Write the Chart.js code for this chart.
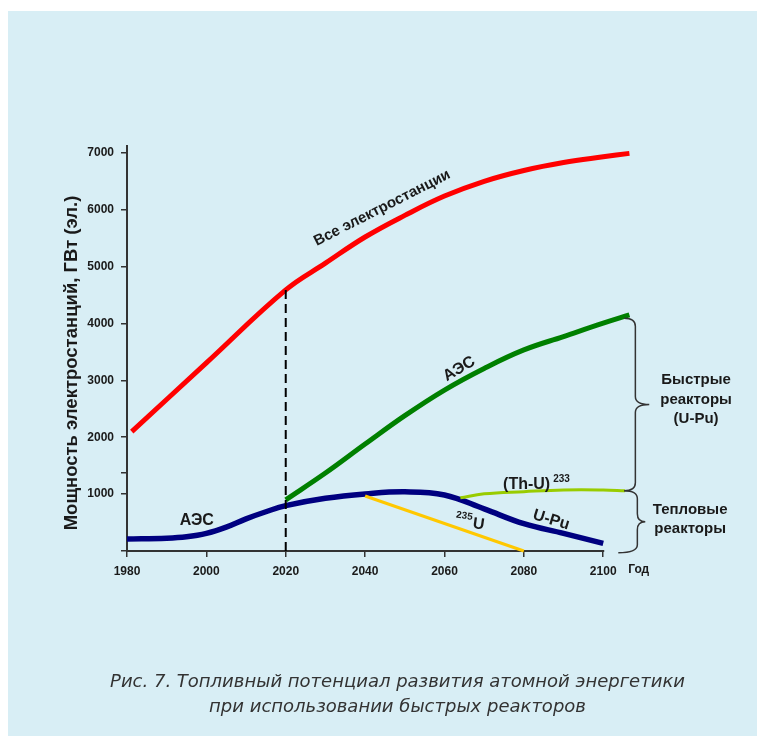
<!DOCTYPE html>
<html><head><meta charset="utf-8">
<script src="https://cdn.jsdelivr.net/npm/chart.js@4/dist/chart.umd.min.js"></script>
<style>
html,body{margin:0;padding:0;background:#fff;width:757px;height:736px;overflow:hidden;}
#panel{position:absolute;left:8px;top:11px;right:0;bottom:0;background:#d8eef5;}
#c{position:absolute;left:0;top:0;}
#cap{position:absolute;left:0;width:795px;top:668px;text-align:center;font-family:"DejaVu Sans";font-style:italic;font-weight:200;font-size:18px;line-height:25px;color:#333;}
</style></head><body>
<div id="panel"></div>
<canvas id="c" width="757" height="736"></canvas>
<div id="cap">Рис. 7. Топливный потенциал развития атомной энергетики<br>при использовании быстрых реакторов</div>
<script>
// ---- data ----
const xTicks = [1980, 2000, 2020, 2040, 2060, 2080, 2100];
const yTicks = [0, 1000, 1370, 2000, 3000, 4000, 5000, 6000, 7000];
const yTickLabels = ['', '1000', '', '2000', '3000', '4000', '5000', '6000', '7000'];

const allYears  = [1981.2, 2000, 2020, 2030, 2040, 2050, 2060, 2070, 2080, 2090, 2100, 2106.6];
const allPower  = [2100, 3307, 4590, 5060, 5520, 5900, 6240, 6500, 6690, 6830, 6930, 6990];

const fastYears = [2020, 2030, 2040, 2050, 2060, 2070, 2080, 2090, 2100, 2106.6];
const fastPower = [900, 1370, 1880, 2380, 2830, 3210, 3535, 3770, 4005, 4150];

const npsYears  = [1980, 1990, 1995, 2000, 2005, 2010, 2015, 2020, 2030, 2040, 2050, 2060, 2070, 2080, 2090, 2100];
const npsPower  = [210, 225, 250, 310, 420, 565, 690, 797, 926, 1002, 1040, 985, 740, 480, 310, 135];

const u235Years = [2040, 2080];
const u235Power = [967, 0];

const thuYears  = [2064, 2070, 2080, 2090, 2100, 2105.5];
const thuPower  = [935, 1005, 1043, 1073, 1073, 1060];

const cutYears  = [2020, 2020];
const cutPower  = [0, 4590];

const pts = (xs, ys) => xs.map((v, i) => ({x: v, y: ys[i]}));

const FONT = '"Liberation Sans", Arial, sans-serif';

const annot = {
  id: 'annot',
  beforeDatasetsDraw(chart) {
    const {ctx, scales: {x, y}} = chart;
    ctx.save();
    ctx.strokeStyle = '#333';
    ctx.lineWidth = 2;
    ctx.beginPath();
    ctx.moveTo(x.left, y.bottom);
    ctx.lineTo(x.getPixelForValue(xTicks[xTicks.length - 1]) + 1, y.bottom);
    ctx.stroke();
    ctx.restore();
  },
  afterDatasetsDraw(chart) {
    const {ctx, scales: {x, y}} = chart;
    const X = v => x.getPixelForValue(v), Y = v => y.getPixelForValue(v);
    ctx.save();
    ctx.fillStyle = '#1a1a1a';
    ctx.textAlign = 'center';
    ctx.textBaseline = 'middle';
    const txt = (s, xv, yv, rot, size, align) => {
      ctx.save();
      ctx.translate(X(xv), Y(yv));
      ctx.rotate(rot * Math.PI / 180);
      ctx.font = 'bold ' + size + 'px ' + FONT;
      ctx.textAlign = align || 'center';
      ctx.fillText(s, 0, 0);
      ctx.restore();
    };
    txt('Все электростанции', 2044.3, 6030, -27, 15);
    txt('АЭС', 2063.7, 3200, -31, 16);
    txt('АЭС', 1997.6, 527, 0, 16);
    txt('(Th-U)', 2080.7, 1160, 0, 16);
    txt('233', 2089.5, 1266, 0, 10);
    txt('235', 2065.0, 615, 8, 10);
    txt('U', 2068.6, 466, 8, 16);
    txt('U-Pu', 2086.9, 545, 17, 16);
    txt('Быстрые', 2123.4, 3006, 0, 15);
    txt('реакторы', 2123.4, 2655, 0, 15);
    txt('(U-Pu)', 2123.4, 2321, 0, 15);
    txt('Тепловые', 2121.9, 721, 0, 15);
    txt('реакторы', 2121.9, 381, 0, 15);
    // x-axis unit
    ctx.font = 'bold 12px ' + FONT;
    ctx.textAlign = 'left';
    ctx.fillText('Год', X(2106.3), y.bottom + 19);
    // y-axis title
    ctx.save();
    ctx.translate(72, 363);
    ctx.rotate(-Math.PI / 2);
    ctx.font = 'bold 18.5px ' + FONT;
    ctx.textAlign = 'center';
    ctx.fillText('Мощность электростанций, ГВт (эл.)', 0, 0);
    ctx.restore();
    // braces
    ctx.strokeStyle = '#333';
    ctx.lineWidth = 1.5;
    const brace = (xv, top, bot, tipXv, leftTop, leftBot) => {
      const x0 = X(xv), y0 = Y(top), y1 = Y(bot), xt = X(tipXv), ym = (y0 + y1) / 2, r = 8;
      ctx.beginPath();
      ctx.moveTo(X(leftTop), y0);
      ctx.quadraticCurveTo(x0, y0, x0, y0 + r);
      ctx.lineTo(x0, ym - r);
      ctx.quadraticCurveTo(x0, ym, xt, ym);
      ctx.quadraticCurveTo(x0, ym, x0, ym + r);
      ctx.lineTo(x0, y1 - r);
      ctx.quadraticCurveTo(x0, y1, X(leftBot), y1);
      ctx.stroke();
    };
    brace(2108.1, 4093, 1060, 2111.6, 2105.3, 2105.3);
    brace(2108.6, 1060, -30, 2110.6, 2105.3, 2103.8);
    ctx.restore();
  }
};

const line = (data, color, w, extra) => Object.assign({
  data, borderColor: color, borderWidth: w, pointRadius: 0, fill: false,
  tension: 0.4, clip: false
}, extra || {});

new Chart(document.getElementById('c'), {
  type: 'line',
  data: {
    datasets: [
      line(pts(cutYears, cutPower), '#000', 2, {borderDash: [9, 5], tension: 0}),
      line(pts(allYears, allPower), '#ff0000', 5),
      line(pts(fastYears, fastPower), '#008000', 5),
      line(pts(u235Years, u235Power), '#ffc800', 3, {tension: 0}),
      line(pts(thuYears, thuPower), '#99cc00', 3),
      line(pts(npsYears, npsPower), '#000080', 5.5)
    ]
  },
  options: {
    responsive: false,
    devicePixelRatio: 1,
    animation: false,
    events: [],
    layout: {padding: {left: 0, right: 126, top: 146, bottom: 155}},
    plugins: {legend: {display: false}, tooltip: {enabled: false}},
    scales: {
      x: {
        type: 'linear', min: 1980, max: 2107,
        afterBuildTicks: s => { s.ticks = xTicks.map(v => ({value: v})); },
        afterFit: s => { s.height = 30; },
        ticks: {color: '#1a1a1a', font: {family: FONT, size: 12, weight: 'bold'}, padding: 7,
                callback: v => String(v), maxRotation: 0},
        grid: {drawOnChartArea: false, color: '#333', tickLength: 6, lineWidth: 1.5},
        border: {display: false}
      },
      y: {
        type: 'linear', min: 0, max: 7120,
        afterBuildTicks: s => { s.ticks = yTicks.map(v => ({value: v})); },
        afterFit: s => { s.width = 127; },
        ticks: {color: '#1a1a1a', font: {family: FONT, size: 12, weight: 'bold'}, padding: 7,
                callback: (v, i) => yTickLabels[i]},
        grid: {drawOnChartArea: false, color: '#333', tickLength: 6, lineWidth: 1.5},
        border: {color: '#333', width: 2}
      }
    }
  },
  plugins: [annot]
});
</script>
</body></html>
